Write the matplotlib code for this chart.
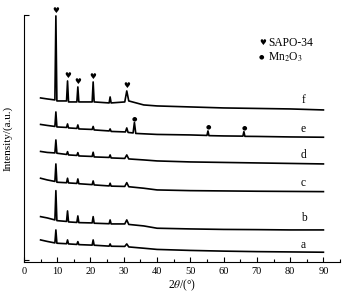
import numpy as np
import matplotlib
matplotlib.use("Agg")
from matplotlib import pyplot as plt

plt.rcParams['font.family'] = ['Liberation Serif', 'DejaVu Sans']
plt.rcParams['mathtext.fontset'] = 'stix'

# 2theta grid shared by samples a-d and f
two_theta = [5, 7, 9.3, 9.6, 9.9, 12.8, 13.1, 13.4, 15.9, 16.2, 16.5, 20.5, 20.8, 21.1,
             25.6, 25.9, 26.2, 30.3, 30.9, 31.5, 36, 40, 50, 60, 70, 80, 90]

# stacked intensities (a.u.)
int_a = [22, 20.5, 19, 32, 18.7, 18.2, 22, 18, 17.5, 20.3, 17.3, 16.8, 22, 16.7,
         15.8, 18, 15.7, 15.5, 18, 15, 13.7, 12.5, 11.5, 10.8, 10.3, 10, 9.7]
int_b = [45.3, 44, 42, 71.3, 41.3, 40.5, 51, 40, 39.5, 46, 39.3, 39, 45.3, 38.7,
         38.2, 42, 38, 38, 42, 37.5, 36, 33.7, 33, 32.5, 32.3, 32, 32]
int_c = [83.7, 82, 80.5, 98, 79.7, 79.2, 83.7, 79, 78.5, 83, 78.2, 77.3, 81, 77,
         76, 78.7, 75.8, 75.5, 79.3, 75.2, 73.7, 72, 71.3, 71, 70.7, 70.5, 70.3]
int_d = [110.5, 109.5, 109, 122, 108.7, 107.5, 110.3, 107, 106.5, 109.3, 106, 105.5, 109.7, 105,
         104.5, 107, 104, 103.5, 107, 103, 102, 101, 100, 99.5, 99, 98.5, 98]
int_f = [164, 163, 162, 246, 161, 161, 181, 160, 160, 175, 160, 160, 180, 160,
         159, 165, 159, 160, 171, 161, 157, 156, 155, 154, 153.5, 153, 152]

# sample e has extra Mn2O3 reflections
two_theta_e = [5, 7, 9.3, 9.6, 9.9, 12.8, 13.1, 13.4, 15.9, 16.2, 16.5, 20.5, 20.8, 21.1,
               25.6, 25.9, 26.2, 30.5, 30.9, 31.3, 32.8, 33.2, 33.6, 40, 50,
               55.0, 55.3, 55.6, 60, 65.8, 66.1, 66.4, 70, 80, 90]
int_e = [137.5, 136.5, 135.5, 150, 135, 134.5, 138, 134, 133.5, 137, 133, 132.5, 135.5, 132,
         131, 133, 130.5, 130, 134, 129.5, 129, 139.5, 128.5, 127.5, 127,
         126.5, 131, 126.3, 126, 125.8, 130.3, 125.6, 125.5, 125, 124.7]

# peak markers
sapo_pos = [9.6, 13.1, 16.2, 20.8, 30.9]
sapo_height = [246, 181, 175, 180, 171]
mn_pos = [33.2, 55.3, 66.1]
mn_height = [139.5, 131, 130.3]

labels = ['a', 'b', 'c', 'd', 'e', 'f']
label_y = [17, 44, 79, 107, 133, 162]

fig = plt.figure(figsize=(3.47, 2.99), dpi=100)
ax = fig.add_axes([0.069, 0.124, 0.911, 0.826])

for ys in [int_a, int_b, int_c, int_d, int_f]:
    ax.plot(two_theta, ys, color='black', lw=1.2)
ax.plot(two_theta_e, int_e, color='black', lw=1.2)

for x, y in zip(sapo_pos, sapo_height):
    ax.annotate('\u2665', (x, y), xytext=(0, 0.5), textcoords='offset points',
                ha='center', va='bottom', fontsize=5.5, family='DejaVu Sans',
                annotation_clip=False)
for x, y in zip(mn_pos, mn_height):
    ax.annotate('\u25cf', (x, y), xytext=(0, 1), textcoords='offset points',
                ha='center', va='bottom', fontsize=4.5, family='DejaVu Sans',
                annotation_clip=False)

for lab, y in zip(labels, label_y):
    ax.text(84, y, lab, fontsize=8.3, ha='center', va='center')

# legend
ax.text(71.7, 219, '\u2665', fontsize=5.5, family='DejaVu Sans', ha='center', va='center')
ax.text(73.3, 219, 'SAPO-34', fontsize=8.3, ha='left', va='center')
ax.text(71.5, 205, '\u25cf', fontsize=4.5, family='DejaVu Sans', ha='center', va='center')
ax.text(73.3, 205, r'Mn$_2$O$_3$', fontsize=8.3, ha='left', va='center')

ax.set_xlim(0, 95)
ax.set_ylim(0, 247)
ax.set_xticks(np.arange(0, 91, 10))
ax.set_xticks(np.arange(5, 96, 10), minor=True)
ax.set_yticks([2, 247])
ax.set_yticklabels([])
ax.tick_params(axis='both', direction='in', labelsize=7.5, length=3.5, width=0.8)
ax.tick_params(axis='x', which='minor', direction='in', length=2, width=0.8)
ax.tick_params(axis='x', pad=4)
ax.spines['top'].set_visible(False)
ax.spines['right'].set_visible(False)
for s in ['left', 'bottom']:
    ax.spines[s].set_linewidth(0.8)

ax.set_xlabel(r'2$\theta$/(°)', fontsize=8.3, labelpad=1)
ax.set_ylabel('Intensity/(a.u.)', fontsize=8, labelpad=5)

fig.savefig('out.png', dpi=100)
